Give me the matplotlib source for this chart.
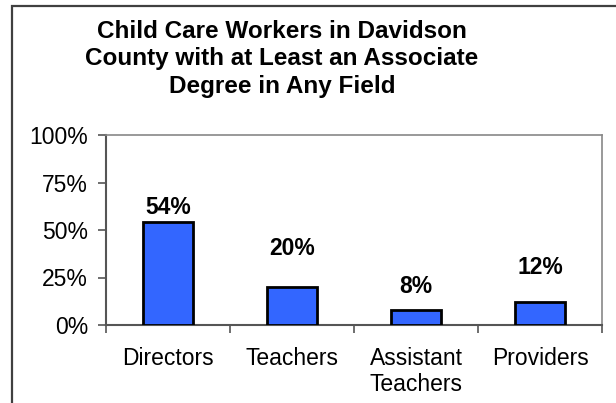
import matplotlib.pyplot as plt
from matplotlib.patches import Rectangle

plt.rcParams['font.family'] = ['Liberation Sans', 'DejaVu Sans']

categories = ["Directors", "Teachers", "Assistant\nTeachers", "Providers"]
values = [54, 20, 8, 12]
labels = ["54%", "20%", "8%", "12%"]
yticks = [0, 25, 50, 75, 100]
# baseline height (in %) where each value label sits, as placed in the original
label_pos = [58.5, 37, 17, 27]

fig = plt.figure(figsize=(6.16, 4.03), dpi=100)

# outer frame of the chart (clipped by the image edge on the right and bottom)
fig.patches.append(Rectangle((11.5 / 616, -0.05), 1.2, (403 - 6.5) / 403 + 0.05,
                             transform=fig.transFigure, fill=False,
                             edgecolor="#404040", linewidth=1.6))

ax = fig.add_axes([106 / 616, 78 / 403, 496 / 616, 190 / 403])

x = range(len(categories))
ax.bar(x, values, width=0.4, color="#3366FF", edgecolor="black", linewidth=2, zorder=3)

for i, v in enumerate(values):
    ax.text(i, label_pos[i], labels[i], ha="center", va="baseline",
            fontsize=16.5, fontweight="bold")

ax.set_xlim(-0.5, len(categories) - 0.5)
ax.set_ylim(0, 100)
ax.set_yticks(yticks)
ax.set_yticklabels([f"{t}%" for t in yticks], fontsize=16.5)
ax.set_xticks([i - 0.5 for i in range(len(categories) + 1)])
ax.set_xticklabels([])
ax.set_xticks(list(x), minor=True)
ax.set_xticklabels(categories, minor=True, fontsize=16.5, linespacing=1.15)
ax.tick_params(axis="x", which="minor", length=0, pad=16)
ax.tick_params(axis="x", which="major", length=6, width=1.2, color="#555555", direction="out")
ax.tick_params(axis="y", length=6, width=1.2, color="#555555", direction="out", pad=7)

for s in ["top", "right"]:
    ax.spines[s].set_color("#888888")
    ax.spines[s].set_linewidth(1.2)
for s in ["left", "bottom"]:
    ax.spines[s].set_color("#555555")
    ax.spines[s].set_linewidth(1.5)

fig.text(282 / 616, 1 - 59 / 403,
         "Child Care Workers in Davidson\nCounty with at Least an Associate\nDegree in Any Field",
         ha="center", va="center", fontsize=17.5, fontweight="bold", linespacing=1.25)

fig.savefig("out.png", dpi=100)
